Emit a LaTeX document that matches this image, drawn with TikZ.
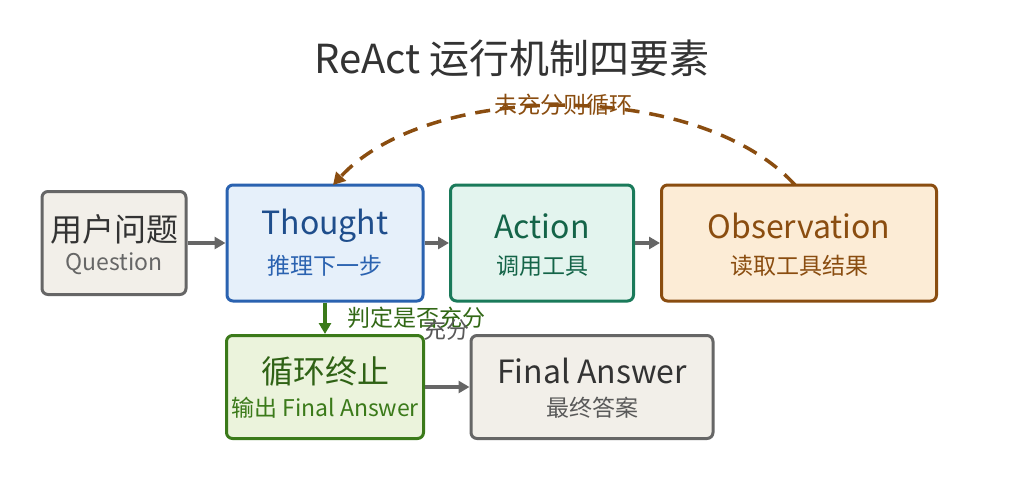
\documentclass[tikz,border=0pt]{standalone}
\usepackage{fontspec}
\setmainfont{Noto Sans CJK SC}
\usetikzlibrary{arrows.meta}
\definecolor{grayln}{HTML}{666666}
\definecolor{grayfl}{HTML}{F2EFE9}
\definecolor{blueln}{HTML}{2A62B0}
\definecolor{bluefl}{HTML}{E6F0FA}
\definecolor{bluetx}{HTML}{1F4E8C}
\definecolor{greenln}{HTML}{1A7A5A}
\definecolor{greenfl}{HTML}{E3F4EE}
\definecolor{greentx}{HTML}{146448}
\definecolor{orangeln}{HTML}{8A4D10}
\definecolor{orangefl}{HTML}{FCECD6}
\definecolor{oliveln}{HTML}{3B7A1A}
\definecolor{olivefl}{HTML}{EBF3DC}
\begin{document}
\begin{tikzpicture}[
        x=1pt, y=-1pt,
        % --- 樣式 ---
        box/.style={draw, rounded corners=6pt, line width=3pt, align=center, inner sep=0pt},
        gbox/.style={box, draw=grayln, fill=grayfl, text=black!75},
        bbox/.style={box, draw=blueln, fill=bluefl, text=bluetx},
        abox/.style={box, draw=greenln, fill=greenfl, text=greentx},
        obox/.style={box, draw=orangeln, fill=orangefl, text=orangeln},
        lbox/.style={box, draw=oliveln, fill=olivefl, text=oliveln},
        big/.style={font=\fontsize{32}{36}\selectfont},
        small/.style={font=\fontsize{23}{26}\selectfont},
        flow/.style={-{Triangle[length=11pt,width=12pt]}, line width=4pt, draw=grayln}
    ]
    \fill[white] (0,0) rectangle (1025,482);
    \useasboundingbox (0,0) rectangle (1025,482);

    % 標題
    \node[font=\fontsize{40}{44}\selectfont, text=black!80] (title) at (512,58) {ReAct 运行机制四要素};

    % 節點
    \node[gbox, minimum width=144pt, minimum height=103pt] (q) at (114,243) {};
    \node[big, text=black!80] at (114,229) {用户问题};
    \node[small, text=black!60] at (114,264) {Question};

    \node[bbox, minimum width=196pt, minimum height=116pt] (t) at (325,243) {};
    \node[big, text=bluetx] at (325,226) {Thought};
    \node[small, text=blueln] at (325,266) {推理下一步};

    \node[abox, minimum width=183pt, minimum height=116pt] (a) at (542,243) {};
    \node[big, text=greentx] at (542,226) {Action};
    \node[small, text=greentx] at (542,266) {调用工具};

    \node[obox, minimum width=275pt, minimum height=116pt] (o) at (799,243) {};
    \node[big, text=orangeln] at (799,226) {Observation};
    \node[small, text=orangeln] at (799,266) {读取工具结果};

    \node[lbox, minimum width=197pt, minimum height=103pt] (s) at (325,387) {};
    \node[big, text=oliveln!80!black] at (325,371) {循环终止};
    \node[small, text=oliveln] at (325,408) {输出 Final Answer};

    \node[gbox, minimum width=242pt, minimum height=103pt] (f) at (592,387) {};
    \node[big, text=black!80] at (592,371) {Final Answer};
    \node[small, text=black!65] at (592,408) {最终答案};

    % 連線
    \draw[flow] (q) -- (t);
    \draw[flow] (t) -- (a);
    \draw[flow] (a) -- (o);
    \draw[flow] (s) -- (f);
    \draw[-{Triangle[length=11pt,width=12pt]}, line width=4pt, draw=oliveln] (t) -- (s);
    \node[small, text=oliveln!85!black] (judge) at (416,318) {判定是否充分};
    \node[small, text=black!65] (enough) at (446,330) {充分};
    \draw[-{Triangle[length=12pt,width=13pt]}, line width=3.5pt, draw=orangeln, dash pattern=on 15pt off 10pt]
        (795,185) .. controls (700,80) and (430,80) .. (333,185);
    \node[small, text=orangeln] (loop) at (563,105) {未充分则循环};
\end{tikzpicture}
\end{document}
